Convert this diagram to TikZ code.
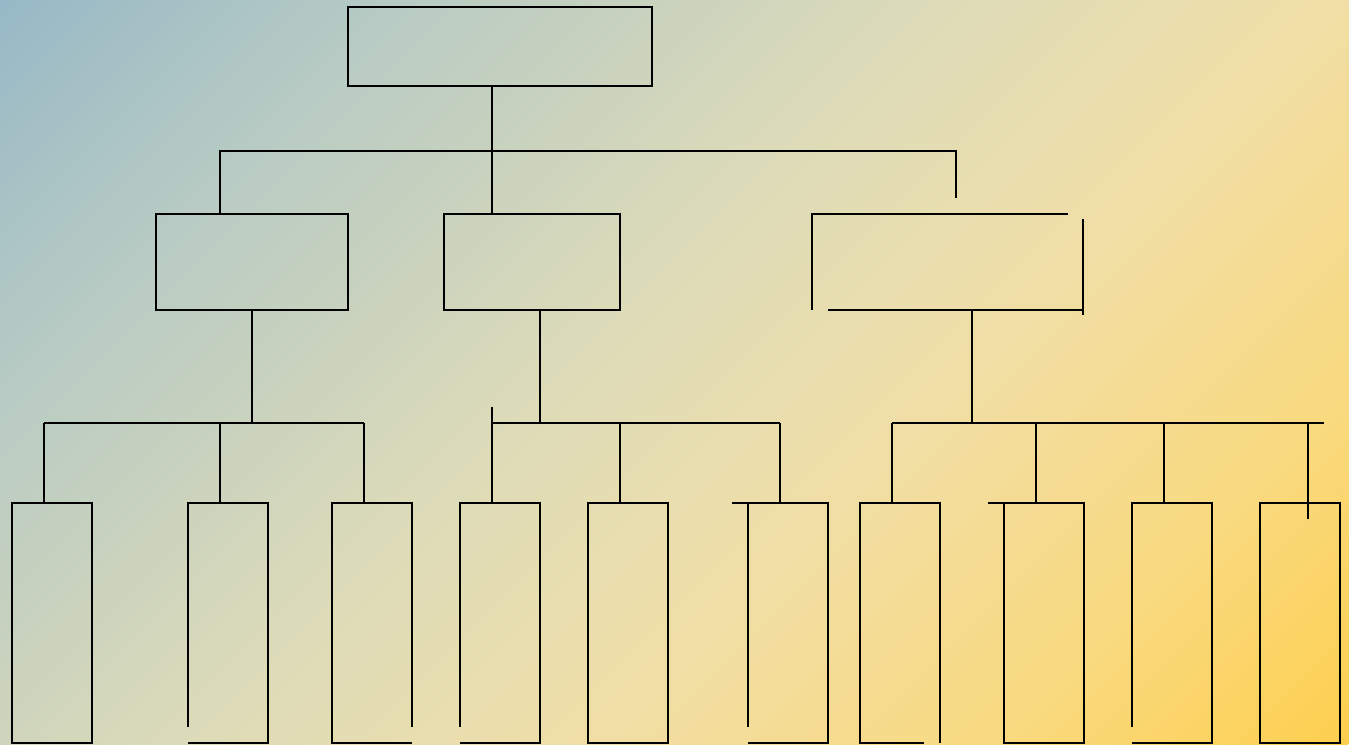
\documentclass[tikz,border=0pt]{standalone}
\usetikzlibrary{calc}
\definecolor{bgblue}{RGB}{150,184,198}
\definecolor{bgmist}{RGB}{184,203,196}
\definecolor{bgsage}{RGB}{200,210,190}
\definecolor{bgcream}{RGB}{220,219,185}
\definecolor{bgpale}{RGB}{233,222,175}
\definecolor{bgsand}{RGB}{240,222,165}
\definecolor{bgwheat}{RGB}{249,218,128}
\definecolor{bggold}{RGB}{253,207,78}
\pgfdeclarehorizontalshading{bgshade}{30cm}{color(0cm)=(bgblue); color(5.62cm)=(bgmist); color(9.18cm)=(bgsage); color(13.02cm)=(bgcream); color(16.58cm)=(bgpale); color(18.94cm)=(bgsand); color(24.57cm)=(bgwheat); color(29.6cm)=(bggold)}

\begin{document}
\begin{tikzpicture}
\tikzset{
  ln/.style={line width=0.04cm},
  box/.style={ln,draw,inner sep=0,outer sep=0},
  frame/.style={inner sep=0,outer sep=0},
  leaf/.style={frame,minimum width=1.6cm,minimum height=4.79cm},
}
\useasboundingbox (0,0) rectangle (26.98,14.88);
\begin{scope}
\clip (0,0) rectangle (26.98,14.88);
\node[rotate=-45,inner sep=0] (bg) at (13.49,7.44) {\pgfuseshading{bgshade}};
\end{scope}

\node[box,minimum width=6.08cm,minimum height=1.58cm] (root) at (10.0,13.95) {};
\node[box,minimum width=3.84cm,minimum height=1.92cm] (ma) at (5.04,9.64) {};
\node[box,minimum width=3.52cm,minimum height=1.92cm] (mb) at (10.64,9.64) {};
\node[frame,minimum width=5.42cm,minimum height=1.92cm] (mc) at (18.95,9.64) {};

\foreach \n/\x in {1/1.04,2/4.56,3/7.44,4/10.0,5/12.56,6/15.76,7/18.0,8/20.88,9/23.44,10/26.0}
  \node[leaf] (l\n) at (\x,2.425) {};

\draw[ln] ([xshift=-3mm]mc.north east) -- (mc.north west) -- (mc.south west);
\draw[ln] ([xshift=3.2mm]mc.south west) -- (mc.south east);
\draw[ln] ([yshift=-1mm]mc.north east) -- ([yshift=-1mm]mc.south east);

\foreach \n in {1,5,10}
  \draw[ln] (l\n.south west) rectangle (l\n.north east);
\foreach \n in {2,4,9}
  \draw[ln] ([yshift=3.2mm]l\n.south west) -- (l\n.north west) -- (l\n.north east) -- (l\n.south east) -- (l\n.south west);
\draw[ln] ([yshift=3.2mm]l3.south east) -- (l3.north east) -- (l3.north west) -- (l3.south west) -- (l3.south east);
\draw[ln] ([xshift=-3.2mm]l6.north west) -- (l6.north east) -- (l6.south east) -- (l6.south west);
\draw[ln] ([yshift=3.2mm]l6.south west) -- (l6.north west);
\draw[ln] ([xshift=-3.2mm]l7.south east) -- (l7.south west) -- (l7.north west) -- (l7.north east) -- (l7.south east);
\draw[ln] ([xshift=-3.2mm]l8.north west) -- (l8.north east) -- (l8.south east) -- (l8.south west) -- (l8.north west);

\coordinate (tb-l) at (4.4,11.86);
\coordinate (tb-r) at (19.12,11.86);
\draw[ln] ([xshift=-1.6mm]root.south) -- ([xshift=-1.6mm]root.south |- mb.north);
\draw[ln] (tb-l |- ma.north) -- (tb-l) -- (tb-r) -- ++(0,-0.94);

\coordinate (bus) at (0,6.42);
\draw[ln] (ma.south) -- (ma.south |- bus);
\draw[ln] ([xshift=1.6mm]mb.south) -- ([xshift=1.6mm]mb.south |- bus);
\draw[ln] ([xshift=4.9mm]mc.south) -- ([xshift=4.9mm]mc.south |- bus);

\draw[ln] ([xshift=-1.6mm]l1.north |- bus) -- ([xshift=-1.6mm]l3.north |- bus);
\draw[ln] ([xshift=-1.6mm]l4.north |- bus) -- ([xshift=-1.6mm]l6.north |- bus);
\draw[ln] ([xshift=-1.6mm]l7.north |- bus) -- ([xshift=4.7mm]l10.north |- bus);

\foreach \n in {1,2,3,5,6,7,8,9}
  \draw[ln] ([xshift=-1.6mm]l\n.north |- bus) -- ([xshift=-1.6mm]l\n.north);
\draw[ln] ([xshift=-1.6mm,yshift=3.2mm]l4.north |- bus) -- ([xshift=-1.6mm]l4.north);
\draw[ln] ([xshift=1.6mm]l10.north |- bus) -- ([xshift=1.6mm,yshift=-3.2mm]l10.north);
\end{tikzpicture}
\end{document}
